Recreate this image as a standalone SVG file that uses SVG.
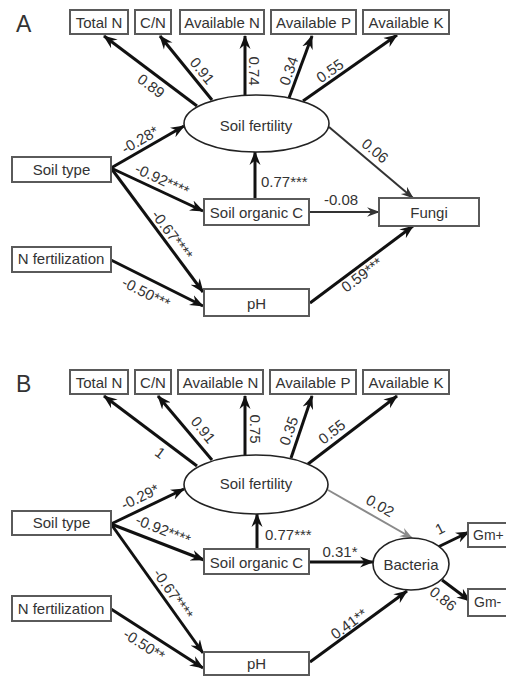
<svg xmlns="http://www.w3.org/2000/svg" width="506" height="676" viewBox="0 0 506 676">
<style>
text{font-family:"Liberation Sans",Arial,sans-serif;font-size:15px;fill:#333}
.panel{font-size:23px}
.box{fill:#fff;stroke:#5a5a5a;stroke-width:2}
.ell{fill:#fff;stroke:#222;stroke-width:1.6}
.lbl{text-anchor:middle}
.c{text-anchor:middle}
.gm{font-size:14px}
.thick{stroke:#111;stroke-width:3;fill:none;marker-end:url(#ah)}
.thin{stroke:#333;stroke-width:2;fill:none;marker-end:url(#aht)}
.grey{stroke:#8a8a8a;stroke-width:2;fill:none;marker-end:url(#ahg)}
</style>
<defs>
<marker id="ah" markerUnits="userSpaceOnUse" viewBox="0 0 14 12" markerWidth="14" markerHeight="12" refX="13" refY="6" orient="auto">
<path d="M0,0.5 L14,6 L0,11.5 L4.5,6 Z" fill="#111"/>
</marker>
<marker id="aht" markerUnits="userSpaceOnUse" viewBox="0 0 14 12" markerWidth="13" markerHeight="11" refX="13" refY="6" orient="auto">
<path d="M0,0.8 L14,6 L0,11.2 L4.5,6 Z" fill="#333"/>
</marker>
<marker id="ahg" markerUnits="userSpaceOnUse" viewBox="0 0 14 12" markerWidth="13" markerHeight="11" refX="13" refY="6" orient="auto">
<path d="M0,0.8 L14,6 L0,11.2 L4.5,6 Z" fill="#8a8a8a"/>
</marker>
</defs>
<rect width="506" height="676" fill="#fff"/>

<!-- Panel A -->
<text class="panel" x="16" y="32">A</text>
<g id="connectors-A">
<line class="thick" x1="197" y1="106" x2="104" y2="36"/>
<line class="thick" x1="212" y1="100" x2="160" y2="36"/>
<line class="thick" x1="245" y1="95" x2="245" y2="36"/>
<line class="thick" x1="289" y1="98" x2="312" y2="36"/>
<line class="thick" x1="303" y1="101" x2="397" y2="35"/>
<line class="thin" x1="329" y1="127" x2="413" y2="198"/>
<line class="thick" x1="111" y1="168" x2="184" y2="126"/>
<line class="thick" x1="111" y1="168" x2="203" y2="211"/>
<line class="thick" x1="111" y1="168" x2="203" y2="292"/>
<line class="thick" x1="111" y1="260" x2="203" y2="306"/>
<line class="thick" x1="255" y1="199" x2="255" y2="152"/>
<line class="thin" x1="310" y1="212" x2="379" y2="212"/>
<line class="thick" x1="310" y1="303" x2="413" y2="226"/>
<text class="lbl" transform="translate(151,86) rotate(37)" y="5">0.89</text>
<text class="lbl" transform="translate(202,71) rotate(51)" y="5">0.91</text>
<text class="lbl" transform="translate(254,71) rotate(90)" y="5">0.74</text>
<text class="lbl" transform="translate(289,71) rotate(-70)" y="5">0.34</text>
<text class="lbl" transform="translate(330,71) rotate(-35)" y="5">0.55</text>
<text class="lbl" transform="translate(375,151) rotate(40)" y="5">0.06</text>
<text class="lbl" transform="translate(140,140) rotate(-30)" y="5">-0.28*</text>
<text class="lbl" transform="translate(162,180) rotate(25)" y="5">-0.92****</text>
<text class="lbl" transform="translate(172,235) rotate(53)" y="5">-0.67****</text>
<text class="lbl" transform="translate(146,293) rotate(27)" y="5">-0.50***</text>
<text x="261" y="187">0.77***</text>
<text class="lbl" x="341" y="205">-0.08</text>
<text class="lbl" transform="translate(362,275) rotate(-37)" y="5">0.59***</text>
</g>
<g id="A-totalN"><rect class="box" x="70" y="10" width="58" height="24"/><text class="c" x="99" y="28">Total N</text></g>
<g id="A-CN"><rect class="box" x="135" y="10" width="36" height="24"/><text class="c" x="153" y="28">C/N</text></g>
<g id="A-availN"><rect class="box" x="180" y="10" width="84" height="24"/><text class="c" x="222" y="28">Available N</text></g>
<g id="A-availP"><rect class="box" x="271" y="10" width="85" height="24"/><text class="c" x="313.5" y="28">Available P</text></g>
<g id="A-availK"><rect class="box" x="363" y="10" width="86" height="24"/><text class="c" x="406" y="28">Available K</text></g>
<g id="A-fertility"><ellipse class="ell" cx="256.5" cy="123.5" rx="72.5" ry="28.5"/><text class="c" x="256" y="131">Soil fertility</text></g>
<g id="A-soiltype"><rect class="box" x="12" y="157" width="99" height="25"/><text class="c" x="61.5" y="175">Soil type</text></g>
<g id="A-nfert"><rect class="box" x="12" y="247" width="99" height="25"/><text class="c" x="61" y="264">N fertilization</text></g>
<g id="A-soc"><rect class="box" x="204" y="199" width="105" height="26"/><text class="c" x="256.5" y="218">Soil organic C</text></g>
<g id="A-pH"><rect class="box" x="204" y="289" width="105" height="27"/><text class="c" x="256.5" y="309">pH</text></g>
<g id="A-fungi"><rect class="box" x="379" y="198" width="100" height="28"/><text class="c" x="429" y="218">Fungi</text></g>

<!-- Panel B -->
<text class="panel" x="16" y="392">B</text>
<g id="connectors-B">
<line class="thick" x1="197" y1="466" x2="104" y2="396"/>
<line class="thick" x1="212" y1="460" x2="158" y2="396"/>
<line class="thick" x1="245" y1="455" x2="245" y2="396"/>
<line class="thick" x1="291" y1="458" x2="312" y2="396"/>
<line class="thick" x1="308" y1="464" x2="397" y2="396"/>
<line class="grey" x1="328" y1="490" x2="412" y2="538"/>
<line class="thick" x1="111" y1="524" x2="184" y2="489"/>
<line class="thick" x1="111" y1="524" x2="204" y2="560"/>
<line class="thick" x1="111" y1="524" x2="203" y2="653"/>
<line class="thick" x1="111" y1="609" x2="203" y2="668"/>
<line class="thick" x1="257" y1="549" x2="257" y2="514"/>
<line class="thick" x1="309" y1="562" x2="373" y2="562"/>
<line class="thick" x1="310" y1="662" x2="407" y2="591"/>
<line class="thick" x1="438" y1="547" x2="469" y2="532"/>
<line class="thick" x1="442" y1="580" x2="470" y2="601"/>
<text class="lbl" transform="translate(160,453) rotate(37)" y="5">1</text>
<text class="lbl" transform="translate(203,430) rotate(51)" y="5">0.91</text>
<text class="lbl" transform="translate(255,429) rotate(90)" y="5">0.75</text>
<text class="lbl" transform="translate(289,431) rotate(-70)" y="5">0.35</text>
<text class="lbl" transform="translate(332,432) rotate(-38)" y="5">0.55</text>
<text class="lbl" transform="translate(380,506) rotate(30)" y="5">0.02</text>
<text class="lbl" transform="translate(140,497) rotate(-26)" y="5">-0.29*</text>
<text class="lbl" transform="translate(163,530) rotate(22)" y="5">-0.92****</text>
<text class="lbl" transform="translate(173,594) rotate(55)" y="5">-0.67****</text>
<text class="lbl" transform="translate(144,645) rotate(33)" y="5">-0.50**</text>
<text x="265" y="540">0.77***</text>
<text class="lbl" x="340" y="557">0.31*</text>
<text class="lbl" transform="translate(349,624) rotate(-36)" y="5">0.41**</text>
<text class="lbl" transform="translate(440,529) rotate(-27)" y="5">1</text>
<text class="lbl" transform="translate(443,599) rotate(39)" y="5">0.86</text>
</g>
<g id="B-totalN"><rect class="box" x="70" y="370" width="58" height="24"/><text class="c" x="99" y="388">Total N</text></g>
<g id="B-CN"><rect class="box" x="135" y="370" width="36" height="24"/><text class="c" x="153" y="388">C/N</text></g>
<g id="B-availN"><rect class="box" x="178" y="370" width="85" height="24"/><text class="c" x="220.5" y="388">Available N</text></g>
<g id="B-availP"><rect class="box" x="270" y="370" width="86" height="24"/><text class="c" x="313" y="388">Available P</text></g>
<g id="B-availK"><rect class="box" x="363" y="370" width="86" height="24"/><text class="c" x="406" y="388">Available K</text></g>
<g id="B-fertility"><ellipse class="ell" cx="256" cy="484.5" rx="72" ry="29.5"/><text class="c" x="256" y="489">Soil fertility</text></g>
<g id="B-soiltype"><rect class="box" x="12" y="511" width="99" height="24"/><text class="c" x="61.5" y="528">Soil type</text></g>
<g id="B-nfert"><rect class="box" x="12" y="596" width="99" height="25"/><text class="c" x="61" y="614">N fertilization</text></g>
<g id="B-soc"><rect class="box" x="204" y="549" width="105" height="25"/><text class="c" x="256.5" y="568">Soil organic C</text></g>
<g id="B-pH"><rect class="box" x="204" y="652" width="105" height="23"/><text class="c" x="256.5" y="669">pH</text></g>
<g id="B-bacteria"><ellipse class="ell" cx="411" cy="564" rx="38" ry="26"/><text class="c" x="411" y="570">Bacteria</text></g>
<g id="B-gmpos"><rect class="box" x="468" y="523" width="60" height="24"/><text class="gm" x="473" y="540">Gm+</text></g>
<g id="B-gmneg"><rect class="box" x="468" y="589" width="60" height="27"/><text class="gm" x="474" y="607">Gm-</text></g>
</svg>
